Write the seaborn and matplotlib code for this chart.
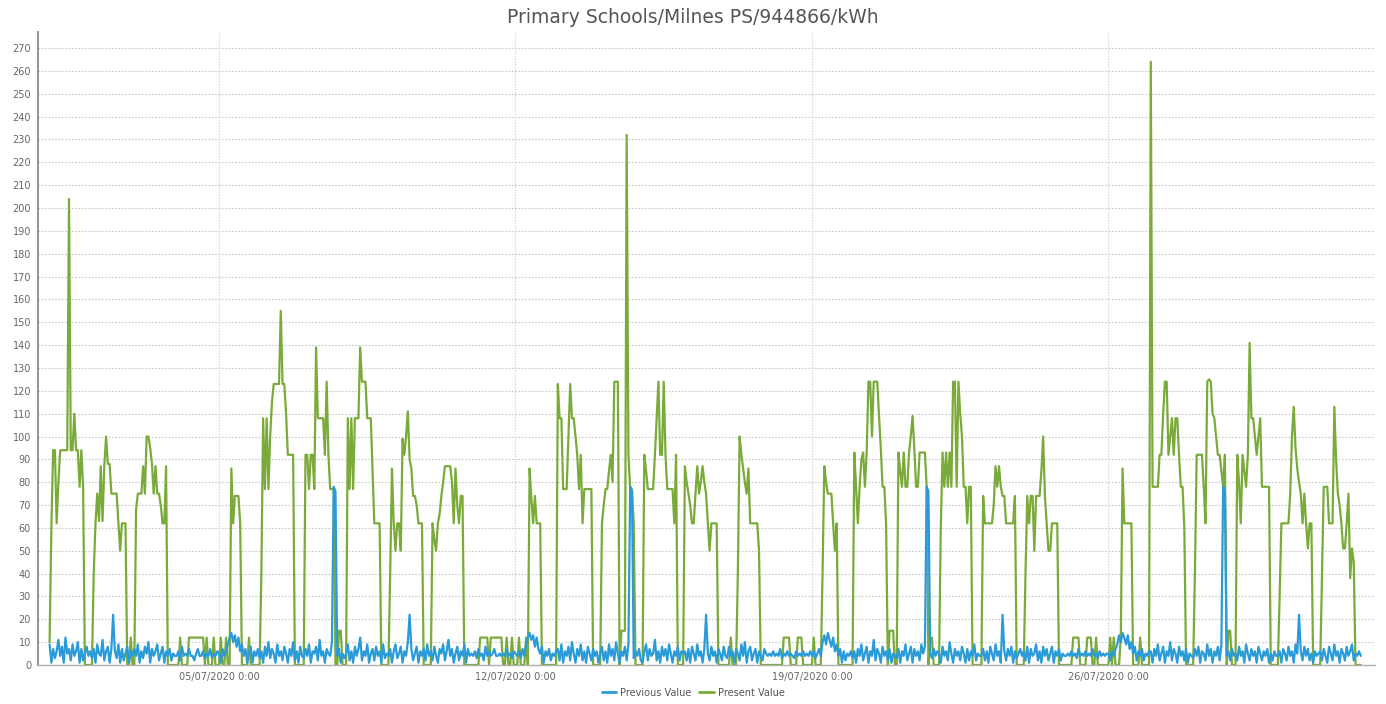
import numpy as np
import pandas as pd
import matplotlib
matplotlib.use('Agg')
import matplotlib.pyplot as plt
from matplotlib.lines import Line2D
import seaborn as sns

title = 'Primary Schools/Milnes PS/944866/kWh'
start = '2020-07-01 00:00'
series_names = ['Previous Value', 'Present Value']
colors = ['#2b9bd8', '#7aab3a']
xtick_dates = ['2020-07-05', '2020-07-12', '2020-07-19', '2020-07-26']
xtick_labels = ['05/07/2020 0:00', '12/07/2020 0:00', '19/07/2020 0:00', '26/07/2020 0:00']
yticks = list(range(0, 280, 10))

# hourly kWh, one row per day, 01/07 .. 31/07
present = [
    [10,60,94,94,62,80,94,94,94,94,94,204,94,94,110,94,94,78,94,78,0,0,0,0],
    [0,40,62,75,63,87,63,87,100,88,88,75,75,75,75,62,50,62,62,62,0,0,12,0],
    [0,68,75,75,75,87,75,100,100,95,88,75,87,75,75,70,62,62,87,0,0,0,0,0],
    [0,0,12,0,0,0,0,12,12,12,12,12,12,12,12,12,0,12,0,0,0,12,0,0],
    [0,12,0,0,12,0,0,86,62,74,74,74,62,0,0,0,0,12,0,0,0,0,0,0],
    [40,108,77,108,77,100,115,123,123,123,123,155,123,123,110,92,92,92,92,0,0,0,0,0],
    [0,92,92,77,92,92,77,139,108,108,108,108,92,124,92,77,77,77,0,0,15,15,0,0],
    [0,108,77,108,77,108,108,108,139,124,124,124,108,108,108,85,62,62,62,62,0,0,0,0],
    [0,40,86,62,50,62,62,50,99,92,100,111,90,86,74,74,70,62,62,62,0,0,0,0],
    [0,62,55,50,62,66,74,80,87,87,87,87,80,62,86,70,62,74,74,0,0,0,0,0],
    [0,0,0,0,12,12,12,12,12,0,12,12,12,12,12,12,12,0,0,12,0,0,12,0],
    [0,0,12,0,0,0,12,0,86,73,62,74,62,62,62,0,0,0,0,0,0,0,0,0],
    [123,108,108,77,77,77,100,123,108,108,100,92,77,92,62,77,77,77,77,77,0,0,0,0],
    [0,62,70,77,77,85,92,80,124,124,124,0,15,15,15,232,92,77,77,62,0,0,0,0],
    [0,92,85,77,77,77,77,92,108,124,92,92,124,92,77,77,77,77,62,92,0,0,0,0],
    [87,80,75,70,62,62,75,87,75,80,87,80,75,62,50,62,62,62,62,0,0,0,0,0],
    [0,0,12,0,0,0,40,100,92,86,80,75,86,62,62,62,62,62,50,0,0,0,0,0],
    [0,0,0,0,0,0,0,0,12,12,12,12,0,0,0,0,12,12,12,0,0,0,0,0],
    [0,12,0,0,0,0,40,87,80,75,75,75,62,50,62,0,0,0,0,0,0,0,0,0],
    [93,78,62,78,90,93,78,93,124,124,100,124,124,124,109,95,78,78,62,0,15,15,15,0],
    [0,93,85,78,93,78,78,93,100,109,95,78,78,93,93,93,93,78,0,12,12,0,0,0],
    [0,60,93,78,93,78,93,78,124,124,78,124,110,100,78,78,62,78,78,0,0,0,0,0],
    [0,74,62,62,62,62,62,70,87,78,87,78,74,74,62,62,62,62,62,74,0,0,0,0],
    [0,40,74,62,74,74,50,74,74,74,85,100,74,62,50,50,62,62,62,62,0,0,0,0],
    [0,0,0,0,12,12,12,12,0,0,0,0,12,12,12,0,0,12,0,0,0,0,0,0],
    [0,12,0,12,0,0,0,12,86,62,62,62,62,62,0,0,0,0,12,0,0,0,0,0],
    [264,78,78,78,78,92,92,110,124,124,92,100,108,92,108,108,92,78,78,60,0,0,0,0],
    [0,40,92,92,92,92,78,62,124,125,124,110,108,100,92,92,85,78,92,0,15,15,0,0],
    [0,92,80,62,92,85,78,92,141,108,108,100,92,100,108,78,78,78,78,78,0,0,0,0],
    [0,30,62,62,62,62,62,75,100,113,95,86,80,75,62,75,62,51,62,62,0,0,0,0],
    [0,40,78,78,78,62,62,62,113,90,75,70,62,51,51,62,75,38,51,45,0,0,0,0],
]

previous = [
    [9,1,7,3,6,11,4,8,1,12,5,7,2,9,4,6,10,1,7,2,5,8,4,6],
    [3,7,1,9,5,4,11,2,6,8,1,7,22,6,3,9,1,7,2,5,8,1,6,4],
    [7,4,9,1,6,3,8,5,10,1,7,4,6,9,2,5,8,1,6,4,7,2,5,4],
    [4,6,2,8,4,5,4,7,4,4,2,5,7,4,4,6,3,5,4,7,3,5,4,6],
    [5,1,7,4,6,9,12,14,10,13,8,12,6,9,4,7,1,5,8,1,6,4,7,3],
    [6,1,8,4,10,3,7,5,1,9,4,6,2,8,5,1,7,4,10,2,6,1,8,4],
    [3,7,4,9,1,6,5,8,2,11,4,6,1,7,5,4,10,78,76,4,7,1,5,3],
    [5,9,2,6,1,8,4,7,12,2,6,4,9,1,5,7,2,8,4,6,1,9,3,5],
    [4,7,1,6,9,3,5,8,1,6,4,10,22,7,2,5,8,1,6,4,7,2,9,4],
    [6,2,8,4,1,7,5,9,2,6,11,4,7,1,5,8,2,6,4,9,1,7,4,5],
    [4,6,3,7,4,5,2,8,4,6,4,5,7,4,4,5,4,5,4,7,4,5,3,6],
    [5,4,6,3,7,4,9,12,14,11,13,8,12,7,5,8,1,6,4,7,2,5,4,6],
    [7,2,9,1,6,4,8,2,10,5,1,7,4,9,2,6,1,8,5,2,7,4,6,1],
    [5,8,2,6,1,9,4,7,2,10,5,1,6,4,8,2,9,78,76,3,6,4,7,2],
    [1,6,9,2,7,4,5,11,2,6,1,8,4,7,2,9,5,1,6,4,8,2,6,5],
    [6,2,7,1,8,5,2,9,4,6,1,7,22,5,2,8,4,6,1,7,5,2,8,4],
    [3,8,4,6,1,7,5,2,9,4,10,1,6,8,2,5,7,1,6,4,2,7,5,4],
    [5,4,6,4,5,4,7,3,5,4,6,4,5,4,3,6,4,5,4,6,4,5,4,6],
    [4,6,3,5,7,4,10,13,9,14,11,8,12,6,9,4,7,1,6,2,5,4,6,3],
    [6,1,7,4,9,2,5,8,1,6,4,11,2,7,5,1,8,4,6,2,7,1,5,4],
    [3,7,1,6,4,9,2,5,8,1,7,4,6,2,9,5,8,78,76,5,3,7,4,6],
    [5,1,8,4,6,2,10,5,1,7,4,6,2,8,5,1,7,2,6,4,9,2,5,4],
    [4,7,2,6,1,8,5,2,9,4,6,1,22,6,2,7,4,8,1,6,3,5,7,4],
    [6,2,8,1,7,4,5,9,2,6,1,8,4,7,2,5,8,1,6,4,7,2,5,4],
    [4,5,4,6,4,5,3,7,4,5,4,6,4,5,4,7,4,5,3,6,4,5,4,5],
    [5,2,6,4,7,9,13,10,14,12,9,13,7,10,5,8,2,6,4,7,2,5,4,6],
    [6,1,7,4,9,2,5,8,1,6,4,10,2,7,5,1,8,4,6,2,7,1,5,4],
    [3,7,4,8,1,6,5,2,9,4,7,1,6,4,8,2,9,78,76,4,6,2,7,4],
    [5,2,8,4,6,1,9,5,2,7,4,6,1,8,5,2,6,4,7,1,5,2,6,4],
    [4,6,1,7,5,2,8,4,6,1,9,5,22,6,2,8,4,7,2,5,1,6,4,5],
    [6,2,7,4,1,8,5,2,9,4,6,1,7,5,2,8,4,6,9,2,5,4,6,4],
]

times = pd.date_range(start, periods=24 * len(present), freq='h')
df = pd.concat([
    pd.DataFrame({'time': times, 'kWh': np.concatenate(previous), 'series': series_names[0]}),
    pd.DataFrame({'time': times, 'kWh': np.concatenate(present), 'series': series_names[1]}),
])

sns.set_style('white')
plt.rcParams['font.family'] = ['DejaVu Sans']

fig = plt.figure(figsize=(13.86, 7.04), dpi=100)
ax = fig.add_axes([0.0274, 0.0554, 0.9646, 0.899])

sns.lineplot(data=df, x='time', y='kWh', hue='series', hue_order=series_names,
             palette=colors, linewidth=1.6, legend=False, ax=ax)
# previous value drawn above present value
ax.lines[0].set_zorder(3)
ax.lines[1].set_zorder(2)

ax.set_xlim(pd.Timestamp('2020-06-30 17:25'), pd.Timestamp('2020-08-01 07:00'))
ax.set_ylim(0, 277)
ax.set_yticks(yticks)
ax.set_yticklabels([str(v) for v in yticks])
ax.set_xticks(pd.to_datetime(xtick_dates))
ax.set_xticklabels(xtick_labels)
ax.set_xlabel('')
ax.set_ylabel('')

ax.yaxis.grid(True, linestyle=(0, (1.5, 1.5)), color='#c8c8c8', linewidth=0.8)
ax.xaxis.grid(True, linestyle=(0, (1, 1.5)), color='#cccccc', linewidth=0.8)
ax.set_axisbelow(True)

for s in ['top', 'right']:
    ax.spines[s].set_visible(False)
ax.spines['left'].set_color('#8a8a8a')
ax.spines['left'].set_linewidth(1.3)
ax.spines['bottom'].set_color('#b0b0b0')
ax.spines['bottom'].set_linewidth(1.0)
ax.tick_params(axis='y', length=3, width=0.8, color='#8a8a8a', labelsize=7, labelcolor='#666666', pad=2)
ax.tick_params(axis='x', length=0, labelsize=7, labelcolor='#666666', pad=5)

fig.suptitle(title, x=0.5, y=0.988, fontsize=13.5, color='#555555')

handles = [Line2D([0], [0], color=c, lw=2) for c in colors]
fig.legend(handles, series_names, loc='center', bbox_to_anchor=(0.5, 0.016), ncol=2,
           frameon=False, fontsize=7, labelcolor='#555555', handlelength=1.5,
           handletextpad=0.4, columnspacing=0.8)

fig.savefig('out.png', dpi=100)
